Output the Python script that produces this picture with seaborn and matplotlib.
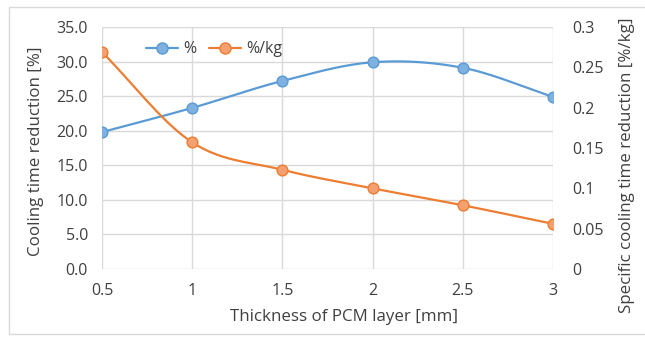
import numpy as np
import matplotlib
matplotlib.use("Agg")
import matplotlib.pyplot as plt
import seaborn as sns
from matplotlib.lines import Line2D
from matplotlib.patches import Rectangle

thickness = [0.5, 1.0, 1.5, 2.0, 2.5, 3.0]
pct = [19.8, 23.3, 27.2, 29.9, 29.1, 24.9]
pct_per_kg = [0.269, 0.157, 0.123, 0.100, 0.079, 0.056]
left_ticks = [0, 5, 10, 15, 20, 25, 30, 35]
right_ticks = [0, 0.05, 0.1, 0.15, 0.2, 0.25, 0.3]
x_ticks = [0.5, 1, 1.5, 2, 2.5, 3]

sns.set_style("white")
plt.rcParams['font.family'] = ['Open Sans', 'DejaVu Sans']

BLUE = "#5B9BD5"
BLUE_F = "#7EB0E0"
ORANGE = "#ED7D31"
ORANGE_F = "#F4A070"
TXT = "#404040"
GRID = "#D9D9D9"


def smooth(x, y, n=30):
    # Catmull-Rom style rendering of the line between points (Excel smoothed line)
    x = np.asarray(x, float); y = np.asarray(y, float)
    px = np.concatenate([[2 * x[0] - x[1]], x, [2 * x[-1] - x[-2]]])
    py = np.concatenate([[2 * y[0] - y[1]], y, [2 * y[-1] - y[-2]]])
    xs, ys = [], []
    for i in range(1, len(px) - 2):
        t = np.linspace(0, 1, n, endpoint=(i == len(px) - 3))
        for P, out in ((px, xs), (py, ys)):
            p0, p1, p2, p3 = P[i - 1], P[i], P[i + 1], P[i + 2]
            m1 = (p2 - p0) / 2
            m2 = (p3 - p1) / 2
            h00 = 2 * t**3 - 3 * t**2 + 1
            h10 = t**3 - 2 * t**2 + t
            h01 = -2 * t**3 + 3 * t**2
            h11 = t**3 - t**2
            out.extend(h00 * p1 + h10 * m1 + h01 * p2 + h11 * m2)
    return np.array(xs), np.array(ys)


fig = plt.figure(figsize=(6.45, 3.38), dpi=100)
fig.patches.append(Rectangle((9 / 645, 4 / 338), 1.2, 1 - 11 / 338, transform=fig.transFigure,
                             fill=False, edgecolor="#D9D9D9", linewidth=1.0))
ax = fig.add_axes([102 / 645, 1 - 269 / 338, (553 - 102) / 645, (269 - 27) / 338])
ax2 = ax.twinx()

sx, sy = smooth(thickness, pct)
ax.plot(sx, sy, color=BLUE, lw=1.6, zorder=3)
sns.scatterplot(x=thickness, y=pct, ax=ax, color=BLUE_F, edgecolor=BLUE, linewidth=1.0,
                s=60, zorder=4, legend=False)

sx2, sy2 = smooth(thickness, pct_per_kg)
ax2.plot(sx2, sy2, color=ORANGE, lw=1.6, zorder=3)
sns.scatterplot(x=thickness, y=pct_per_kg, ax=ax2, color=ORANGE_F, edgecolor=ORANGE, linewidth=1.0,
                s=60, zorder=4, legend=False)

ax.set_xlim(0.5, 3)
ax.set_ylim(0, 35)
ax2.set_ylim(0, 0.3)
ax.set_xticks(x_ticks)
ax.set_xticklabels([f"{v:g}" for v in x_ticks])
ax.set_yticks(left_ticks)
ax.set_yticklabels([f"{v:.1f}" for v in left_ticks])
ax2.set_yticks(right_ticks)
ax2.set_yticklabels([f"{v:g}" for v in right_ticks])

ax.grid(True, color=GRID, lw=1.0)
ax.set_axisbelow(True)
for a in (ax, ax2):
    for s in a.spines.values():
        s.set_visible(False)
    a.tick_params(length=0, labelsize=11.5, colors=TXT)
ax.tick_params(axis='x', pad=10)
ax.tick_params(axis='y', pad=10)
ax2.tick_params(axis='y', pad=14)

ax.set_xlabel("Thickness of PCM layer [mm]", fontsize=12.2, color=TXT, va='center', ha='center')
ax.xaxis.set_label_coords(0.537, -0.198)
ax.set_ylabel("Cooling time reduction [%]", fontsize=12.2, color=TXT, va='center', ha='center')
ax.yaxis.set_label_coords(-0.146, 0.488)
ax2.set_ylabel("Specific cooling time reduction [%/kg]", fontsize=12.2, color=TXT,
               va='center', ha='center')
ax2.yaxis.set_label_coords(1.163, 0.43)

handles = [
    Line2D([0], [0], color=BLUE, lw=1.6, marker='o', markersize=8, markerfacecolor=BLUE_F,
           markeredgecolor=BLUE, label="%"),
    Line2D([0], [0], color=ORANGE, lw=1.6, marker='o', markersize=8, markerfacecolor=ORANGE_F,
           markeredgecolor=ORANGE, label="%/kg"),
]
ax.legend(handles=handles, loc='upper left', bbox_to_anchor=(0.065, 1.0), ncol=2, frameon=False,
          fontsize=11.5, handlelength=2.0, columnspacing=0.8, handletextpad=0.35,
          labelcolor=TXT)

fig.savefig("out.png", dpi=100)
